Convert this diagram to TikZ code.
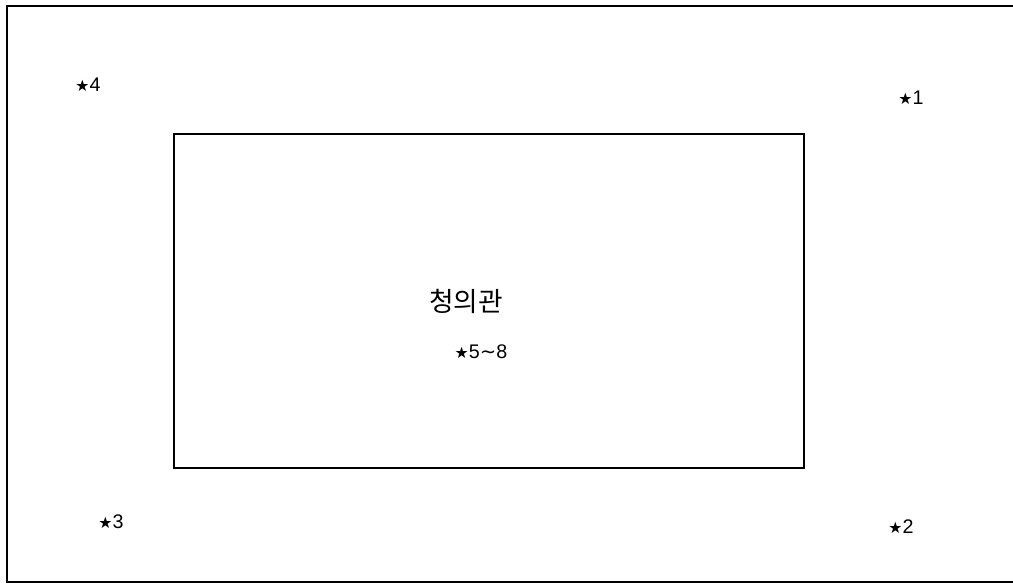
\documentclass[tikz,border=0pt]{standalone}
\usepackage{fontspec}
\setmainfont{Liberation Sans}
\newfontfamily\kor{Noto Sans CJK KR}
\newfontfamily\sym{DejaVu Sans}
\usepackage{tikz}

\newcommand{\pt}{{\sym\scalebox{0.8}{★}}}

\begin{document}
\begin{tikzpicture}[x=0.025cm, y=-0.025cm,
	frame/.style={line width=2pt},
	hall/.style={draw, line width=1.4pt, minimum width=630*0.025cm, minimum height=334*0.025cm, anchor=north west},
	spot/.style={font=\fontsize{14}{16}\selectfont, inner sep=0pt}
	]
	\useasboundingbox (0,0) rectangle (1013,587);
	
	% site boundary
	\draw[frame] (1013,6) -- (7,6) -- (7,582) -- (1013,582);
	
	% building
	\node[hall] (hall) at (173,133) {};
	\node[font=\kor\fontsize{19}{22}\selectfont, inner sep=0pt] (name) at (466,301) {청의관};
	\node[spot] (inner) at (481,352) {\pt5{\sym\raisebox{0.05ex}{\char`~}}8};
	
	% points
	\node[spot] (p1) at (911,98) {\pt1};
	\node[spot] (p2) at (901,527) {\pt2};
	\node[spot] (p3) at (111,522) {\pt3};
	\node[spot] (p4) at (88,85) {\pt4};
\end{tikzpicture}
\end{document}
